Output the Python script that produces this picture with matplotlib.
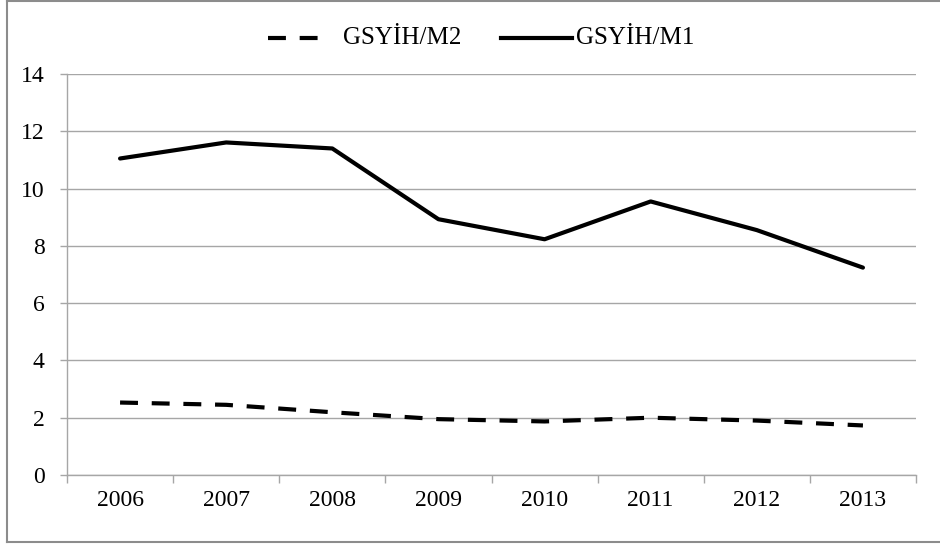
import matplotlib
matplotlib.use("Agg")
import matplotlib.pyplot as plt
from matplotlib.lines import Line2D

years = ["2006", "2007", "2008", "2009", "2010", "2011", "2012", "2013"]
gdp_m2 = [2.53, 2.45, 2.19, 1.95, 1.87, 2.00, 1.90, 1.73]
gdp_m1 = [11.05, 11.61, 11.40, 8.93, 8.23, 9.55, 8.55, 7.24]
y_ticks = [0, 2, 4, 6, 8, 10, 12, 14]
series_names = ["GSYİH/M2", "GSYİH/M1"]

plt.rcParams["font.family"] = ["Liberation Serif", "DejaVu Serif"]

W, H = 940, 544
FS = 17
LEG_FS = 18
DASH = (0, (4.3, 3.3))
fig = plt.figure(figsize=(W / 100, H / 100), dpi=100)
ax = fig.add_axes([67 / W, 1 - 475 / H, (916 - 67) / W, (475 - 74) / H])

grid_c = "#a6a6a6"
x = list(range(len(years)))
ax.plot(x, gdp_m2, color="black", lw=3, linestyle=DASH, dash_capstyle="butt")
ax.plot(x, gdp_m1, color="black", lw=3, solid_capstyle="round",
        solid_joinstyle="round")

ax.set_xlim(-0.5, len(years) - 0.5)
ax.set_ylim(0, 14)
ax.set_yticks(y_ticks)
ax.set_yticklabels([str(v) for v in y_ticks])
ax.yaxis.grid(True, color=grid_c, lw=1)
ax.set_axisbelow(True)

ax.set_xticks(x)
ax.set_xticklabels(years)
ax.set_xticks([i - 0.5 for i in range(len(years) + 1)], minor=True)
ax.tick_params(axis="x", which="major", length=0, pad=11, labelsize=FS)
ax.tick_params(axis="x", which="minor", length=5.5, color=grid_c, width=1)
ax.tick_params(axis="y", length=5, color=grid_c, width=1, pad=11, labelsize=FS)

for side in ["top", "right"]:
    ax.spines[side].set_visible(False)
for side in ["left", "bottom"]:
    ax.spines[side].set_color(grid_c)
    ax.spines[side].set_linewidth(1)


def fx(px):
    return px / W


def fy(py):
    return 1 - py / H


# legend row above the plot
leg_y = 38
fig.add_artist(Line2D([fx(268), fx(320)], [fy(leg_y), fy(leg_y)],
                      transform=fig.transFigure, color="black", lw=3,
                      linestyle=DASH))
fig.text(fx(343), fy(leg_y), series_names[0], fontsize=LEG_FS, va="center",
         ha="left")
fig.add_artist(Line2D([fx(501), fx(572)], [fy(leg_y), fy(leg_y)],
                      transform=fig.transFigure, color="black", lw=3))
fig.text(fx(576), fy(leg_y), series_names[1], fontsize=LEG_FS, va="center",
         ha="left")

# chart frame (left, top, bottom edges)
frame_c = "#8c8c8c"
for xs, ys in [([7, 7], [1, 542]), ([7, 940], [1, 1]), ([7, 940], [542, 542])]:
    fig.add_artist(Line2D([fx(v) for v in xs], [fy(v) for v in ys],
                          transform=fig.transFigure, color=frame_c, lw=1.5))

fig.savefig("out.png", dpi=100, facecolor="white")
